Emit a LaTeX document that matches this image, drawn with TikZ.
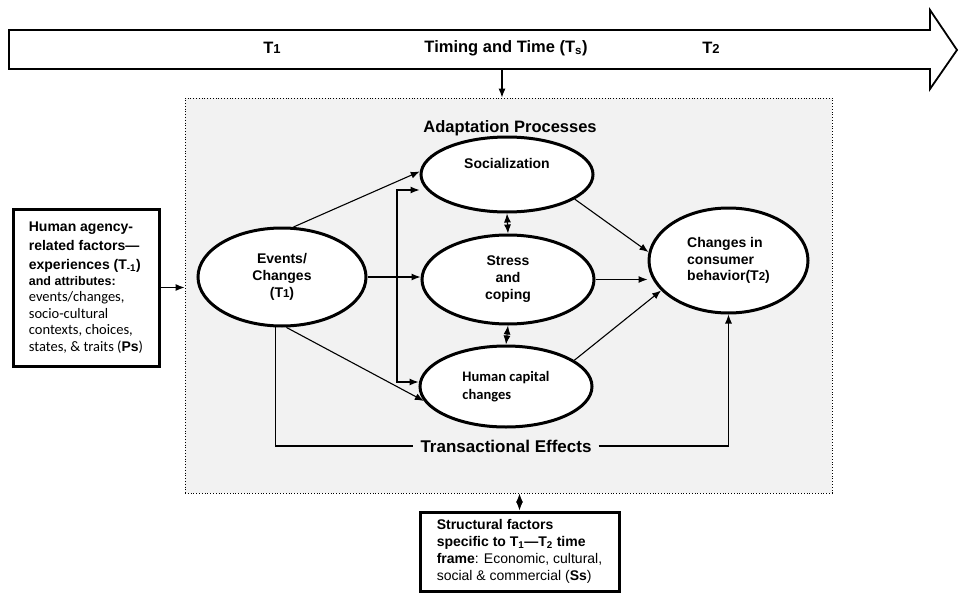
\documentclass[tikz,border=0pt]{standalone}
\usepackage{fontspec}
\setmainfont{Liberation Sans}
\newfontfamily\calib{Carlito}
\usetikzlibrary{arrows.meta, shapes.geometric, positioning, calc}
\definecolor{panelgray}{RGB}{242,242,242}

\begin{document}
\begin{tikzpicture}[x=1pt, y=-1pt,
    >={Latex[length=9pt,width=7pt]},
    proc/.style={ellipse, draw, line width=3pt, fill=white, inner sep=2pt, align=center,
        font=\bfseries\fontsize{14}{17}\selectfont},
    fbox/.style={rectangle, draw, line width=3pt, fill=white, inner sep=2pt, align=left,
        font=\fontsize{14}{16.5}\selectfont},
    panel/.style={draw, dotted, line width=0.8pt, fill=panelgray, inner sep=0pt,
        minimum width=647pt, minimum height=395pt},
    tlabel/.style={font=\bfseries\fontsize{16.5}{18}\selectfont},
    conn/.style={->, line width=1.1pt},
    both/.style={<->, line width=1.1pt},
    plain/.style={line width=1.1pt}
]
\useasboundingbox (0,0) rectangle (961,594);

% time line
\draw[line width=1.8pt, fill=white] (9,30) -- (930,30) -- (930,10) -- (957,50)
    -- (930,89) -- (930,69) -- (9,69) -- cycle;
\node[tlabel] (t1) at (272,48) {T{\fontsize{13}{13}\selectfont 1}};
\node[tlabel] (ts) at (506,48) {Timing and Time (T\textsubscript{s})};
\node[tlabel] (t2) at (711,48) {T{\fontsize{13}{13}\selectfont 2}};
\coordinate (tb) at (502,69);

% adaptation panel
\node[panel] (ap) at (508.5,295.5) {};
\node[font=\bfseries\fontsize{16.5}{18}\selectfont] (aptitle) at (510,128) {Adaptation Processes};

\node[proc, minimum width=168pt, minimum height=98pt] (ev) at (282,277)
    {Events/\\Changes\\(T{\fontsize{11.5}{11.5}\selectfont 1})};
\node[proc, minimum width=172pt, minimum height=75pt,
    label={[font=\bfseries\fontsize{14}{17}\selectfont, yshift=11.5pt]center:Socialization}] (soc) at (507,174.5) {};
\node[proc, minimum width=172pt, minimum height=89pt] (st) at (508,279.5) {Stress\\and\\coping};
\node[proc, minimum width=172pt, minimum height=81pt, align=left,
    font=\calib\bfseries\fontsize{14.5}{18}\selectfont] (hc) at (506,386.5) {Human capital\\changes};
\node[proc, minimum width=159pt, minimum height=105pt, align=left,
    font=\bfseries\fontsize{14}{16.5}\selectfont] (cb) at (728.5,260.5)
    {Changes in\\consumer\\behavior(T{\fontsize{11.5}{11.5}\selectfont 2})};
\node[font=\bfseries\fontsize{17}{19}\selectfont, inner xsep=7pt] (te) at (506,446) {Transactional Effects};

% outside factors
\node[fbox, minimum width=146pt, minimum height=157pt] (hb) at (86,287.5)
    {\textbf{Human agency-}\\[2.5pt]
     \textbf{related factors—}\\[2.5pt]
     \textbf{experiences (T\textsubscript{-1})}\\[-0.5pt]
     {\fontsize{12.5}{15}\selectfont\bfseries and attributes:}\\
     {\calib\fontsize{14.5}{16}\selectfont events/changes,}\\
     {\calib\fontsize{14.5}{16}\selectfont socio-cultural}\\
     {\calib\fontsize{14.5}{16}\selectfont contexts, choices,}\\
     {\calib\fontsize{14.5}{16}\selectfont states, \& traits (}\textbf{Ps}{\calib\fontsize{14.5}{16}\selectfont )}};
\node[fbox, minimum width=199pt, minimum height=79pt, font=\fontsize{14}{17}\selectfont] (sb) at (519.5,551.5)
    {\textbf{Structural factors}\\
     \textbf{specific to T\textsubscript{1}—T\textsubscript{2} time}\\
     \textbf{frame}: Economic, cultural,\\
     social \& commercial (\textbf{Ss})};

% connectors
\coordinate (brtop) at (397,190);
\coordinate (brbot) at (397,382);
\draw[conn] (tb) -- (tb |- ap.north);
\draw[conn] (hb.east) -- (hb.east -| ap.west);
\draw[both] (sb.north) -- (sb.north |- ap.south);
\draw[conn] (ev.77) -- (soc.178);
\draw[conn] (ev.east) -- (ev.east -| st.west);
\draw[conn] (ev.-85) -- (hc.190);
\draw[both] (brtop -| soc.west) -- (brtop) -- (brbot) -- (brbot -| hc.west);
\draw[both] (soc.south) -- (st.north);
\draw[both] (st.south) -- (hc.north);
\draw[conn] (soc.-20) -- (cb.174);
\draw[conn] (st.east) -- (st.east -| cb.west);
\draw[conn] (hc.21) -- (cb.204);
\draw[plain] (ev.263) |- (te.west);
\draw[conn] (te.east) -| (cb.south);
\end{tikzpicture}
\end{document}
